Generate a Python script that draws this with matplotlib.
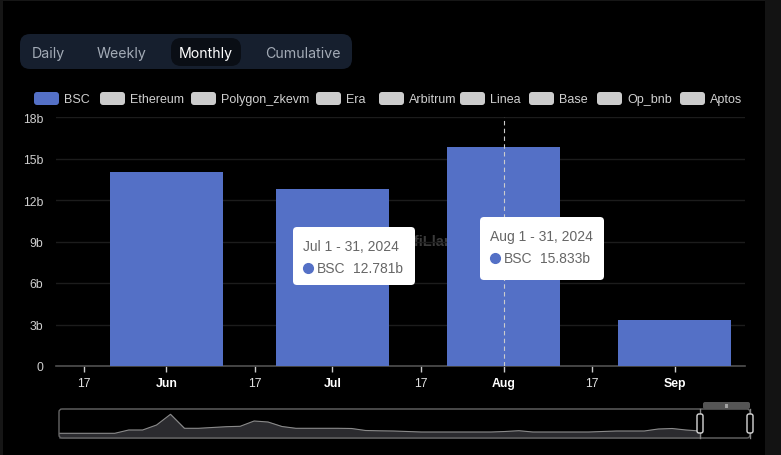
import matplotlib
matplotlib.use("Agg")
import matplotlib.pyplot as plt
import matplotlib.dates as mdates
from matplotlib.patches import FancyBboxPatch, Rectangle
from datetime import datetime
import numpy as np

# ---------------- data ----------------
months = ["Jun", "Jul", "Aug", "Sep"]
month_dates = [datetime(2024, 6, 1), datetime(2024, 7, 1), datetime(2024, 8, 1), datetime(2024, 9, 1)]
bsc_values = [14.03, 12.781, 15.833, 3.33]  # billions

tick_dates = [datetime(2024, 5, 17), datetime(2024, 6, 1), datetime(2024, 6, 17), datetime(2024, 7, 1),
              datetime(2024, 7, 17), datetime(2024, 8, 1), datetime(2024, 8, 17), datetime(2024, 9, 1)]
tick_labels = ["17", "Jun", "17", "Jul", "17", "Aug", "17", "Sep"]
y_ticks = [0, 3, 6, 9, 12, 15, 18]
y_tick_labels = ["0", "3b", "6b", "9b", "12b", "15b", "18b"]

legend_names = ["BSC", "Ethereum", "Polygon_zkevm", "Era", "Arbitrum", "Linea", "Base", "Op_bnb", "Aptos"]
buttons = ["Daily", "Weekly", "Monthly", "Cumulative"]
active_button = "Monthly"

tooltips = [("Jul 1 - 31, 2024", "BSC", "12.781b"), ("Aug 1 - 31, 2024", "BSC", "15.833b")]

# overview (data zoom) sparkline, relative heights
overview_values = [4.7, 4.7, 4.7, 4.7, 4.7, 8, 8, 13, 23.7, 9.7, 9.7, 10.5, 11.3, 11.7, 17, 16, 11.5,
                   9.7, 9.7, 9.7, 9.7, 9.5, 7.5, 7.2, 7, 6.5, 6, 6, 6, 6, 6, 6, 6.5, 7.3, 6, 6, 6, 6,
                   6, 6.5, 7, 7, 7, 9, 9.5, 8, 7]

# ---------------- style ----------------
BAR = "#5470c6"
W, H = 781, 456
fig = plt.figure(figsize=(W / 100, H / 100), dpi=100, facecolor="#000000")
FONT = ["Liberation Sans", "DejaVu Sans"]


def fx(x):
    return x / W


def fy(y):
    return 1 - y / H


def rbox(x0, y0, x1, y1, color, r=6, ec="none", lw=0, z=1):
    p = FancyBboxPatch((fx(x0), fy(y1)), fx(x1 - x0), (y1 - y0) / H,
                       boxstyle=f"round,pad=0,rounding_size={r / W}",
                       transform=fig.transFigure, facecolor=color, edgecolor=ec, linewidth=lw,
                       zorder=z, mutation_aspect=W / H)
    fig.patches.append(p)
    return p


# frame strips
fig.patches.append(Rectangle((fx(765), 0), fx(16), 1, transform=fig.transFigure,
                             facecolor="#131313", edgecolor="none", zorder=0))
fig.patches.append(Rectangle((0, 0), fx(3), 1, transform=fig.transFigure,
                             facecolor="#161616", edgecolor="none", zorder=0))
fig.patches.append(Rectangle((0, fy(2)), fx(765), 2 / H, transform=fig.transFigure,
                             facecolor="#161616", edgecolor="none", zorder=0))

# button bar
rbox(20, 35, 352, 70, "#161f2e", r=10)
btn_x = [48, 122, 206, 303]
for name, bx in zip(buttons, btn_x):
    if name == active_button:
        rbox(bx - 35, 39, bx + 35, 67, "#0a0e15", r=10, z=2)
    fig.text(fx(bx), fy(54), name, ha="center", va="center", fontsize=10.2,
             family=["Inter", "DejaVu Sans"], color="#ffffff" if name == active_button else "#a3abb6",
             zorder=3)

# legend
leg_sw = [34, 100, 191, 316, 379, 460, 529, 597, 680]
for i, (name, sx) in enumerate(zip(legend_names, leg_sw)):
    rbox(sx, 93, sx + 25, 106, BAR if i == 0 else "#cccccc", r=3, z=2)
    fig.text(fx(sx + 30), fy(100), name, ha="left", va="center", fontsize=9.0, family=FONT,
             color="#d0d0d0")

# ---------------- main axes ----------------
ax = fig.add_axes([fx(56), fy(367), fx(745 - 56), (367 - 118) / H])
ax.set_facecolor("none")
xnum = mdates.date2num(month_dates)
ax.bar(xnum, bsc_values, width=20.5, color=BAR, zorder=3)
ax.set_xlim(mdates.date2num(datetime(2024, 5, 12)), mdates.date2num(datetime(2024, 9, 13, 17)))
ax.set_ylim(0, 18)
ax.set_yticks(y_ticks)
ax.set_yticklabels(y_tick_labels, family=FONT, fontsize=8.8, color="#cfcfcf")
ax.tick_params(axis="y", length=0, pad=9)
ax.set_xticks(mdates.date2num(tick_dates))
ax.set_xticklabels(tick_labels, family=FONT, fontsize=8.8, color="#e0e0e0")
for lbl, t in zip(ax.get_xticklabels(), tick_labels):
    if t != "17":
        lbl.set_fontweight("bold")
        lbl.set_color("#ffffff")
ax.tick_params(axis="x", length=4, color="#cccccc", width=1, pad=4)
ax.grid(axis="y", color="#1c1c1c", linewidth=1, zorder=0)
for s in ["top", "right", "left"]:
    ax.spines[s].set_visible(False)
ax.spines["bottom"].set_color("#505050")
ax.spines["bottom"].set_linewidth(1.2)

# watermark
ax.text(0.492, 0.5, "DefiLlama", transform=ax.transAxes, ha="left", va="center",
        fontsize=10.5, fontweight="bold", color="#3b3b3b", family=FONT, zorder=1)

# hover pointer line on Aug
ax.axvline(xnum[2], ymin=0, ymax=1, color="#cccccc", linestyle=(0, (4, 3)),
           linewidth=0.8, zorder=4)

# tooltips
tt_boxes = [(293, 228, 415, 286), (480, 218, 604, 281)]
for (title, name, val), (x0, y0, x1, y1) in zip(tooltips, tt_boxes):
    rbox(x0, y0, x1, y1, "#ffffff", r=4, z=10)
    fig.text(fx(x0 + 10), fy(y0 + 19), title, fontsize=10.0, family=FONT, color="#666666",
             ha="left", va="center", zorder=11)
    fig.add_artist(plt.Line2D([fx(x0 + 15)], [fy(y0 + 41)], transform=fig.transFigure, marker="o",
                              markersize=7, color=BAR, linestyle="none", zorder=11))
    fig.text(fx(x0 + 24), fy(y0 + 41), name, fontsize=10.0, family=FONT, color="#666666",
             ha="left", va="center", zorder=11)
    fig.text(fx(x0 + 60), fy(y0 + 41), val, fontsize=10.0, family=FONT, color="#666666",
             ha="left", va="center", zorder=11)

# ---------------- overview (data zoom) ----------------
ov = fig.add_axes([fx(59), fy(439), fx(750 - 59), (439 - 410) / H])
ov.set_facecolor("none")
n = len(overview_values)
step = (700 - 59) / (n - 1)
xs = np.arange(n)
ov.fill_between(xs, overview_values, 0, color="#2b2b2f", zorder=1)
ov.plot(xs, overview_values, color="#8a8a8a", linewidth=0.8, zorder=2)
ov.set_xlim(0, (750 - 59) / step)
ov.set_ylim(0, 29)
ov.axis("off")
rbox(59, 410, 750, 439, "none", r=3, ec="#666666", lw=1, z=3)
# selection handles
for hx in [700, 750]:
    fig.add_artist(plt.Line2D([fx(hx), fx(hx)], [fy(410), fy(439)], transform=fig.transFigure,
                              color="#888888", linewidth=1, zorder=4))
    rbox(hx - 3, 415, hx + 3, 434, "#000000", r=2, ec="#d8d8d8", lw=1, z=5)
rbox(703, 403, 750, 410, "#555555", r=2, z=4)
fig.text(fx(726.5), fy(406.5), "III", ha="center", va="center", fontsize=4, color="#eeeeee",
         family=FONT, zorder=5)

fig.savefig("out.png", dpi=100, facecolor=fig.get_facecolor())
